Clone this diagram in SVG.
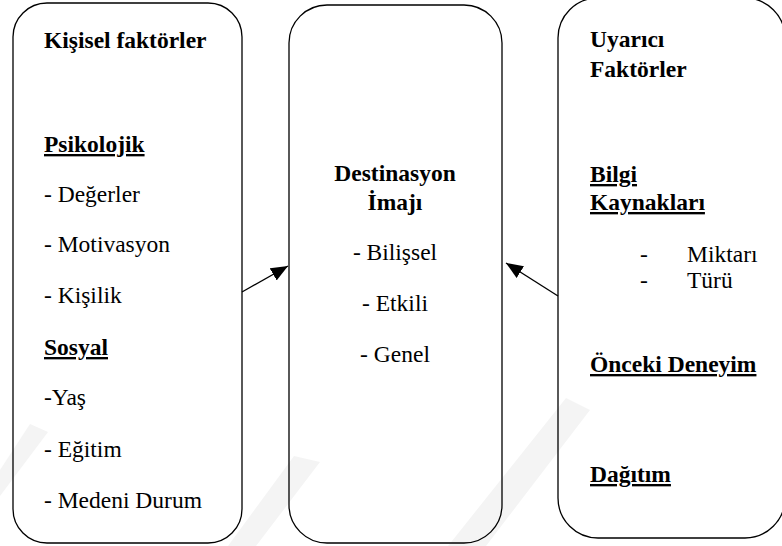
<svg xmlns="http://www.w3.org/2000/svg" width="782" height="546" viewBox="0 0 782 546">
  <style>
    .box { fill: none; stroke: #000; stroke-width: 1.3; }
    text { font-family: 'Liberation Serif', 'Times New Roman', serif; font-size: 23.5px; fill: #000; }
    .b { font-weight: bold; }
    .u { font-weight: bold; text-decoration: underline; }
    .c { text-anchor: middle; }
    .wm { fill: #f4f4f4; }
    .conn { stroke: #000; stroke-width: 1.3; fill: none; }
  </style>
  <defs>
    <marker id="arrow" markerUnits="userSpaceOnUse" markerWidth="18" markerHeight="14" refX="17" refY="7" orient="auto">
      <path d="M0,0 L17,7 L0,14 z" fill="#000"/>
    </marker>
  </defs>
  <rect width="782" height="546" fill="#fff"/>

  <!-- faint background stripes -->
  <g id="watermark">
    <polygon class="wm" points="228,546 256,546 320,462 294,456"/>
    <polygon class="wm" points="448,546 486,546 590,410 566,398"/>
    <polygon class="wm" points="0,470 0,496 48,432 30,424"/>
  </g>

  <g id="kisisel">
    <rect class="box" x="13" y="3" width="229" height="540" rx="34" ry="34"/>
    <text class="b" x="44" y="48">Kişisel faktörler</text>
    <text class="u" x="44" y="152">Psikolojik</text>
    <text x="44" y="202">- Değerler</text>
    <text x="44" y="252">- Motivasyon</text>
    <text x="44" y="303">- Kişilik</text>
    <text class="u" x="44" y="355">Sosyal</text>
    <text x="44" y="405">-Yaş</text>
    <text x="44" y="457">- Eğitim</text>
    <text x="44" y="508">- Medeni Durum</text>
  </g>

  <g id="destinasyon">
    <rect class="box" x="289" y="5" width="213" height="538" rx="38" ry="38"/>
    <text class="b c" x="395" y="181">Destinasyon</text>
    <text class="b c" x="395" y="210">İmajı</text>
    <text class="c" x="395" y="260">- Bilişsel</text>
    <text class="c" x="395" y="311">- Etkili</text>
    <text class="c" x="395" y="362">- Genel</text>
  </g>

  <g id="uyarici">
    <rect class="box" x="558" y="-2" width="227" height="540" rx="40" ry="40"/>
    <text class="b" x="590" y="47">Uyarıcı</text>
    <text class="b" x="590" y="77">Faktörler</text>
    <text class="u" x="590" y="182">Bilgi</text>
    <text class="u" x="590" y="210">Kaynakları</text>
    <text x="640" y="262">-</text>
    <text x="687" y="262">Miktarı</text>
    <text x="640" y="288">-</text>
    <text x="687" y="288">Türü</text>
    <text class="u" x="590" y="372">Önceki Deneyim</text>
    <text class="u" x="590" y="482">Dağıtım</text>
  </g>

  <g id="connectors">
    <line class="conn" x1="242" y1="292" x2="288" y2="266" marker-end="url(#arrow)"/>
    <line class="conn" x1="558" y1="296" x2="506" y2="263" marker-end="url(#arrow)"/>
  </g>
</svg>
